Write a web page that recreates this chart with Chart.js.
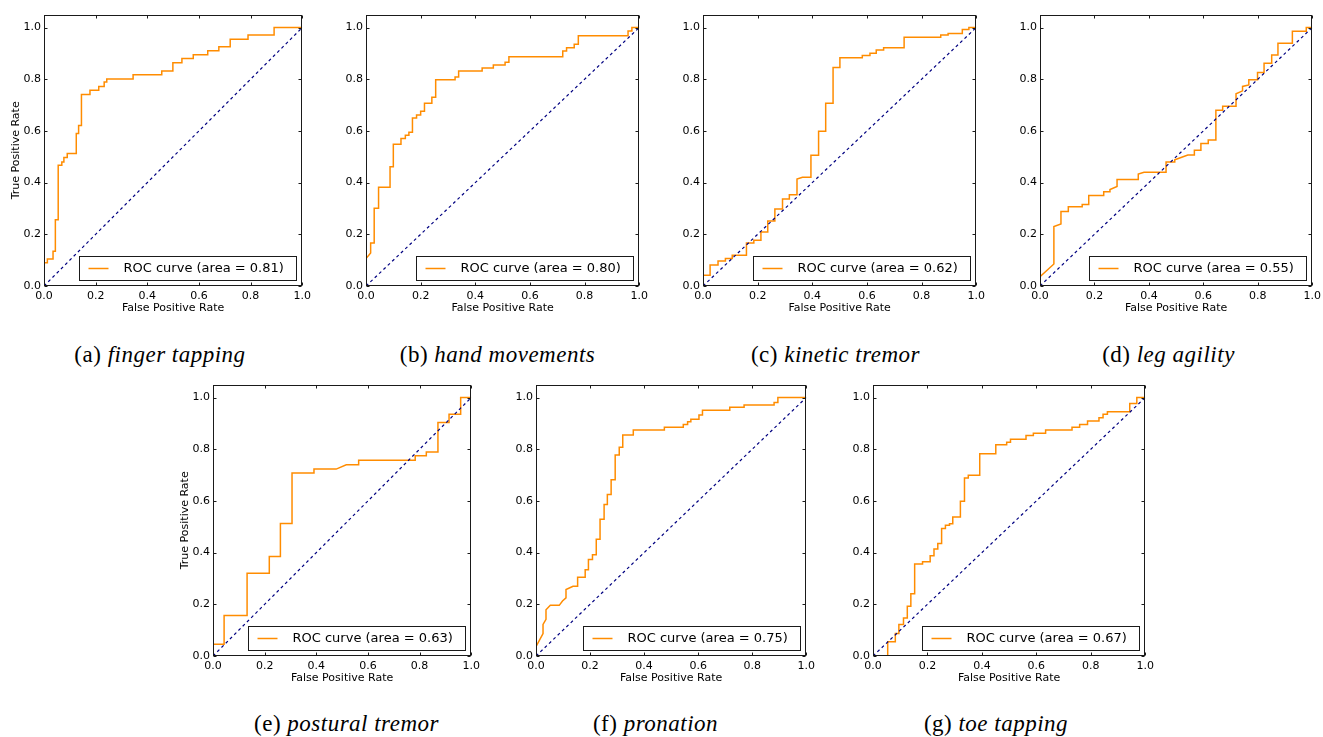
<!DOCTYPE html>
<html><head><meta charset="utf-8">
<script src="https://cdn.jsdelivr.net/npm/chart.js@4.4.0/dist/chart.umd.min.js"></script>
<style>
html,body{margin:0;padding:0;background:#fff;width:1323px;height:737px;overflow:hidden;position:relative}
canvas{position:absolute}
.cap{position:absolute;font-family:"Liberation Serif","Times New Roman",serif;font-size:23px;letter-spacing:0.5px;color:#000;white-space:nowrap;transform:translate(-50%,-50%)}
.cap i{font-style:italic}
</style></head><body>
<script>
// ---- data ----
const xTicks = [0, 0.2, 0.4, 0.6, 0.8, 1.0];
const yTicks = [0, 0.2, 0.4, 0.6, 0.8, 1.0];
const tickLabels = ['0.0', '0.2', '0.4', '0.6', '0.8', '1.0'];
const diagonal = [[0, 0], [1, 1]];
const panelLetters = ['a', 'b', 'c', 'd', 'e', 'f', 'g'];
const panelNames = ['finger tapping', 'hand movements', 'kinetic tremor', 'leg agility', 'postural tremor', 'pronation', 'toe tapping'];
const aucValues = ['0.81', '0.80', '0.62', '0.55', '0.63', '0.75', '0.67'];

const rocA = [[0,0],[0,0.09],[0.013,0.09],[0.013,0.104],[0.035,0.104],[0.035,0.134],[0.044,0.134],[0.044,0.256],[0.055,0.256],[0.055,0.467],[0.069,0.467],[0.069,0.48],[0.077,0.48],[0.077,0.497],[0.090,0.497],[0.090,0.513],[0.125,0.513],[0.125,0.590],[0.134,0.590],[0.134,0.621],[0.145,0.621],[0.145,0.741],[0.178,0.741],[0.178,0.757],[0.212,0.757],[0.212,0.772],[0.233,0.772],[0.233,0.789],[0.243,0.789],[0.243,0.801],[0.345,0.801],[0.345,0.817],[0.456,0.817],[0.456,0.832],[0.499,0.832],[0.499,0.864],[0.534,0.864],[0.534,0.880],[0.578,0.880],[0.578,0.895],[0.634,0.895],[0.634,0.910],[0.677,0.910],[0.677,0.926],[0.721,0.926],[0.721,0.955],[0.790,0.955],[0.790,0.971],[0.891,0.971],[0.891,1],[1,1]];
const rocB = [[0,0],[0,0.106],[0.017,0.128],[0.017,0.166],[0.030,0.166],[0.030,0.301],[0.046,0.301],[0.046,0.382],[0.088,0.382],[0.088,0.461],[0.100,0.461],[0.100,0.548],[0.128,0.548],[0.128,0.571],[0.144,0.571],[0.144,0.583],[0.157,0.583],[0.157,0.595],[0.170,0.595],[0.170,0.650],[0.185,0.650],[0.185,0.662],[0.200,0.662],[0.200,0.676],[0.214,0.676],[0.214,0.707],[0.241,0.707],[0.241,0.730],[0.255,0.730],[0.255,0.798],[0.326,0.798],[0.326,0.809],[0.339,0.809],[0.339,0.832],[0.425,0.832],[0.425,0.843],[0.466,0.843],[0.466,0.855],[0.509,0.855],[0.509,0.866],[0.523,0.866],[0.523,0.887],[0.720,0.887],[0.720,0.909],[0.734,0.909],[0.734,0.922],[0.762,0.922],[0.762,0.935],[0.777,0.935],[0.777,0.968],[0.959,0.968],[0.959,0.987],[0.973,0.987],[0.973,1],[1,1]];
const rocC = [[0,0],[0,0.042],[0.026,0.042],[0.026,0.081],[0.055,0.081],[0.055,0.097],[0.082,0.097],[0.082,0.106],[0.107,0.106],[0.107,0.119],[0.159,0.119],[0.159,0.166],[0.186,0.166],[0.186,0.177],[0.212,0.177],[0.212,0.209],[0.237,0.209],[0.237,0.251],[0.263,0.251],[0.263,0.298],[0.291,0.298],[0.291,0.337],[0.316,0.337],[0.316,0.353],[0.344,0.353],[0.344,0.414],[0.364,0.421],[0.395,0.421],[0.395,0.506],[0.423,0.506],[0.423,0.599],[0.449,0.599],[0.449,0.707],[0.476,0.707],[0.476,0.845],[0.501,0.845],[0.501,0.883],[0.583,0.883],[0.583,0.892],[0.611,0.892],[0.611,0.900],[0.634,0.900],[0.634,0.913],[0.661,0.913],[0.661,0.922],[0.736,0.922],[0.736,0.962],[0.870,0.962],[0.870,0.971],[0.897,0.971],[0.897,0.977],[0.949,0.977],[0.949,0.992],[0.973,0.992],[0.973,1],[1,1]];
const rocD = [[0,0],[0,0.036],[0.051,0.085],[0.051,0.230],[0.077,0.240],[0.077,0.288],[0.104,0.288],[0.104,0.307],[0.155,0.307],[0.155,0.315],[0.179,0.315],[0.179,0.350],[0.234,0.350],[0.234,0.365],[0.257,0.365],[0.257,0.373],[0.283,0.385],[0.283,0.412],[0.361,0.412],[0.361,0.433],[0.382,0.440],[0.463,0.440],[0.463,0.480],[0.495,0.480],[0.495,0.488],[0.518,0.497],[0.543,0.507],[0.567,0.507],[0.567,0.525],[0.591,0.525],[0.591,0.551],[0.618,0.551],[0.618,0.565],[0.646,0.565],[0.646,0.680],[0.671,0.680],[0.671,0.695],[0.720,0.695],[0.720,0.744],[0.744,0.755],[0.744,0.772],[0.767,0.778],[0.767,0.798],[0.799,0.798],[0.799,0.826],[0.823,0.826],[0.823,0.862],[0.851,0.862],[0.851,0.894],[0.874,0.894],[0.874,0.939],[0.927,0.939],[0.927,0.986],[0.978,0.986],[0.978,1],[1,1]];
const rocE = [[0,0],[0,0.045],[0.043,0.045],[0.043,0.157],[0.132,0.157],[0.132,0.320],[0.218,0.320],[0.218,0.385],[0.261,0.385],[0.261,0.513],[0.306,0.513],[0.306,0.708],[0.391,0.708],[0.391,0.723],[0.477,0.723],[0.516,0.740],[0.564,0.740],[0.564,0.757],[0.783,0.757],[0.783,0.775],[0.826,0.775],[0.826,0.789],[0.871,0.789],[0.871,0.903],[0.914,0.903],[0.914,0.935],[0.959,0.935],[0.959,1],[1,1]];
const rocF = [[0,0],[0,0.036],[0.026,0.087],[0.026,0.122],[0.037,0.142],[0.037,0.179],[0.053,0.196],[0.086,0.196],[0.098,0.213],[0.111,0.225],[0.111,0.257],[0.137,0.270],[0.154,0.270],[0.154,0.305],[0.182,0.305],[0.182,0.334],[0.194,0.334],[0.194,0.373],[0.209,0.373],[0.209,0.392],[0.223,0.392],[0.223,0.452],[0.237,0.452],[0.237,0.529],[0.252,0.529],[0.252,0.586],[0.264,0.586],[0.264,0.625],[0.278,0.625],[0.278,0.682],[0.293,0.682],[0.293,0.778],[0.308,0.778],[0.308,0.808],[0.321,0.808],[0.321,0.855],[0.360,0.855],[0.360,0.874],[0.475,0.874],[0.475,0.885],[0.545,0.885],[0.545,0.896],[0.561,0.896],[0.561,0.906],[0.573,0.906],[0.573,0.916],[0.603,0.916],[0.603,0.932],[0.616,0.932],[0.616,0.951],[0.717,0.951],[0.717,0.962],[0.770,0.962],[0.770,0.971],[0.881,0.971],[0.881,0.981],[0.895,0.981],[0.895,1],[1,1]];
const rocG = [[0,0],[0.054,0],[0.054,0.055],[0.082,0.055],[0.082,0.087],[0.095,0.087],[0.095,0.122],[0.112,0.122],[0.112,0.147],[0.126,0.147],[0.126,0.192],[0.139,0.192],[0.139,0.241],[0.153,0.241],[0.153,0.356],[0.182,0.356],[0.182,0.365],[0.210,0.365],[0.210,0.388],[0.224,0.388],[0.224,0.414],[0.238,0.414],[0.238,0.435],[0.252,0.435],[0.252,0.493],[0.266,0.493],[0.266,0.506],[0.281,0.506],[0.281,0.512],[0.293,0.512],[0.293,0.538],[0.321,0.538],[0.321,0.599],[0.336,0.599],[0.336,0.689],[0.350,0.689],[0.350,0.699],[0.392,0.699],[0.392,0.782],[0.451,0.782],[0.451,0.817],[0.491,0.817],[0.491,0.827],[0.505,0.827],[0.505,0.839],[0.562,0.839],[0.562,0.853],[0.589,0.853],[0.589,0.862],[0.634,0.862],[0.634,0.874],[0.731,0.874],[0.731,0.885],[0.759,0.885],[0.759,0.896],[0.788,0.896],[0.788,0.909],[0.830,0.909],[0.830,0.922],[0.845,0.922],[0.845,0.935],[0.861,0.935],[0.861,0.945],[0.943,0.945],[0.943,0.977],[0.969,0.977],[0.969,1],[1,1]];
const rocCurves = [rocA, rocB, rocC, rocD, rocE, rocF, rocG];

// ---- layout (page pixel boxes of each plot area, caption centres) ----
const layoutBoxes = [
  {L:44, R:303, T:13, B:286, yTitle:true,  cx:160,  cy:355},
  {L:366, R:640, T:13, B:286, yTitle:false, cx:497.5, cy:355},
  {L:703, R:977, T:13, B:286, yTitle:false, cx:835.5, cy:355},
  {L:1040, R:1313, T:13, B:286, yTitle:false, cx:1168.5, cy:355},
  {L:213, R:472, T:383, B:656, yTitle:true,  cx:346.5, cy:724},
  {L:536, R:807, T:383, B:656, yTitle:false, cx:655.5, cy:724},
  {L:873, R:1146, T:383, B:656, yTitle:false, cx:996, cy:724}
];

Chart.defaults.font.family = '"DejaVu Sans", sans-serif';
Chart.defaults.font.size = 11;
Chart.defaults.color = '#000';

const framePlugin = {
  id: 'frame',
  afterDraw(chart) {
    const {ctx, chartArea: a, scales: {x, y}} = chart;
    ctx.save();
    ctx.strokeStyle = '#1a1a1a';
    ctx.lineWidth = 1;
    const l = Math.round(a.left) + 0.5, r = Math.round(a.right) - 0.5;
    const t = Math.round(a.top) + 0.5, b = Math.round(a.bottom) - 0.5;
    ctx.strokeRect(l, t, r - l, b - t);
    ctx.beginPath();
    xTicks.forEach(v => {
      const px = Math.round(x.getPixelForValue(v)) + 0.5;
      ctx.moveTo(px, b); ctx.lineTo(px, b - 3);
      ctx.moveTo(px, t); ctx.lineTo(px, t + 3);
    });
    yTicks.forEach(v => {
      const py = Math.round(y.getPixelForValue(v)) + 0.5;
      ctx.moveTo(l, py); ctx.lineTo(l + 3, py);
      ctx.moveTo(r, py); ctx.lineTo(r - 3, py);
    });
    ctx.stroke();
    // legend box inside the plot, lower right
    const ds = chart.data.datasets[1];
    ctx.font = '13px "DejaVu Sans", sans-serif';
    const tw = ctx.measureText(ds.label).width;
    const bw = Math.round(44 + tw + 13), bh = 24;
    const bx = Math.round(a.right - 6 - bw) + 0.5, by = Math.round(a.bottom - 6 - bh) + 0.5;
    ctx.fillStyle = '#fff';
    ctx.fillRect(bx, by, bw, bh);
    ctx.strokeStyle = '#1a1a1a';
    ctx.strokeRect(bx, by, bw, bh);
    ctx.strokeStyle = ds.borderColor;
    ctx.lineWidth = 1.5;
    ctx.beginPath();
    ctx.moveTo(bx + 9, by + bh / 2); ctx.lineTo(bx + 29, by + bh / 2);
    ctx.stroke();
    ctx.fillStyle = '#000';
    ctx.textBaseline = 'middle';
    ctx.textAlign = 'left';
    ctx.fillText(ds.label, bx + 44, by + bh / 2 + 0.5);
    ctx.restore();
  }
};

const PADL = 45, PADT = 8, PADR = 12, XH = 32;
layoutBoxes.forEach((p, i) => {
  const w = (p.R - p.L) + PADL + PADR, h = (p.B - p.T) + PADT + XH;
  const cv = document.createElement('canvas');
  cv.width = w; cv.height = h;
  cv.style.left = (p.L - PADL) + 'px'; cv.style.top = (p.T - PADT) + 'px';
  cv.style.width = w + 'px'; cv.style.height = h + 'px';
  document.body.appendChild(cv);

  const cap = document.createElement('div');
  cap.className = 'cap';
  cap.style.left = p.cx + 'px'; cap.style.top = p.cy + 'px';
  cap.innerHTML = '(' + panelLetters[i] + ') <i>' + panelNames[i] + '</i>';
  document.body.appendChild(cap);

  new Chart(cv, {
    type: 'scatter',
    data: {
      datasets: [
        {label: 'chance', data: diagonal.map(([x, y]) => ({x, y})), showLine: true,
         borderColor: '#000080', borderWidth: 1.2, borderDash: [3, 3], pointRadius: 0, order: 0},
        {label: 'ROC curve (area = ' + aucValues[i] + ')', data: rocCurves[i].map(([x, y]) => ({x, y})),
         showLine: true, borderColor: '#ff8c00', borderWidth: 1.5, pointRadius: 0, tension: 0, order: 1}
      ]
    },
    options: {
      responsive: false, animation: false, devicePixelRatio: 1,
      layout: {padding: {left: 0, top: PADT, right: PADR, bottom: 0}},
      plugins: {legend: {display: false}, tooltip: {enabled: false}},
      scales: {
        x: {
          type: 'linear', min: 0, max: 1,
          grid: {display: false, drawTicks: false}, border: {display: false},
          afterBuildTicks: s => { s.ticks = xTicks.map(v => ({value: v})); },
          afterFit: s => { s.height = XH; },
          ticks: {padding: 4, autoSkip: false, maxRotation: 0, color: '#000',
                  callback: v => tickLabels[xTicks.findIndex(t => Math.abs(t - v) < 1e-9)]},
          title: {display: true, text: 'False Positive Rate', color: '#000', padding: {top: 0, bottom: 3}}
        },
        y: {
          type: 'linear', min: 0, max: 1.05,
          grid: {display: false, drawTicks: false}, border: {display: false},
          afterBuildTicks: s => { s.ticks = yTicks.map(v => ({value: v})); },
          afterFit: s => { s.width = PADL; },
          ticks: {padding: 3, autoSkip: false, color: '#000',
                  callback: v => tickLabels[yTicks.findIndex(t => Math.abs(t - v) < 1e-9)]},
          title: {display: p.yTitle, text: 'True Positive Rate', color: '#000', padding: {top: 10.5, bottom: 0}}
        }
      }
    },
    plugins: [framePlugin]
  });
});
</script>
</body></html>
